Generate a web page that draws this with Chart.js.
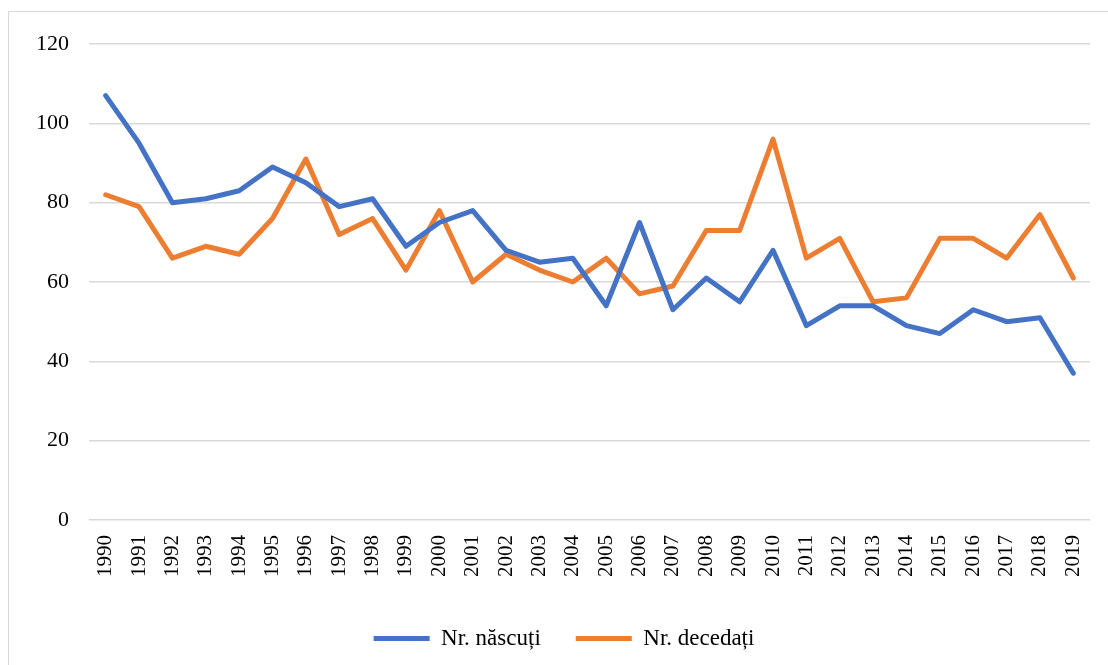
<!DOCTYPE html>
<html>
<head>
<meta charset="utf-8">
<script src="https://cdn.jsdelivr.net/npm/chart.js@4/dist/chart.umd.min.js"></script>
<style>
  html, body { margin: 0; padding: 0; background: #fff; }
  #frame { position: absolute; left: 8px; top: 11px; width: 1120px; height: 680px; border: 1.5px solid #D9D9D9; box-sizing: border-box; }
  #wrap { position: absolute; left: 0; top: 0; width: 1108px; height: 665px; }
</style>
</head>
<body>
<div id="frame"></div>
<div id="wrap"><canvas id="c"></canvas></div>
<script>
const years = ['1990','1991','1992','1993','1994','1995','1996','1997','1998','1999','2000','2001','2002','2003','2004','2005','2006','2007','2008','2009','2010','2011','2012','2013','2014','2015','2016','2017','2018','2019'];
const nascuti = [107,95,80,81,83,89,85,79,81,69,75,78,68,65,66,54,75,53,61,55,68,49,54,54,49,47,53,50,51,37];
const decedati = [82,79,66,69,67,76,91,72,76,63,78,60,67,63,60,66,57,59,73,73,96,66,71,55,56,71,71,66,77,61];
const yTicks = [0,20,40,60,80,100,120];

const fam = "'Liberation Serif', 'Times New Roman', serif";
const yFont = { family: fam, size: 22 };
const xFont = { family: fam, size: 21 };
const legFont = { family: fam, size: 23 };

new Chart(document.getElementById('c'), {
  type: 'line',
  data: {
    labels: years,
    datasets: [
      { label: 'Nr. născuți', data: nascuti, borderColor: '#4472C4', backgroundColor: '#4472C4', borderWidth: 5, pointRadius: 0, tension: 0, borderCapStyle: 'round', borderJoinStyle: 'round' },
      { label: 'Nr. decedați', data: decedati, borderColor: '#ED7D31', backgroundColor: '#ED7D31', borderWidth: 5, pointRadius: 0, tension: 0, borderCapStyle: 'round', borderJoinStyle: 'round' }
    ]
  },
  options: {
    responsive: true,
    maintainAspectRatio: false,
    animation: false,
    layout: { padding: { top: 44, right: 18, left: 38, bottom: 5 } },
    plugins: {
      tooltip: { enabled: false },
      legend: {
        position: 'bottom',
        labels: {
          font: legFont,
          color: '#000',
          usePointStyle: true,
          pointStyle: 'line',
          pointStyleWidth: 56,
          padding: 35
        }
      }
    },
    scales: {
      x: {
        offset: true,
        afterFit: (s) => { s.paddingRight = 0; s.paddingLeft = 0; },
        grid: { display: false, drawTicks: false },
        border: { display: false },
        ticks: { font: xFont, color: '#000', minRotation: 90, maxRotation: 90, autoSkip: false, padding: 15 }
      },
      y: {
        min: 0, max: 120,
        afterFit: (s) => { s.width = 51; },
        afterBuildTicks: (s) => { s.ticks = yTicks.map(v => ({ value: v })); },
        grid: { color: '#D9D9D9', lineWidth: 1.5, drawTicks: false },
        border: { display: false },
        ticks: { font: yFont, color: '#000', padding: 20 }
      }
    }
  }
});
</script>
</body>
</html>
